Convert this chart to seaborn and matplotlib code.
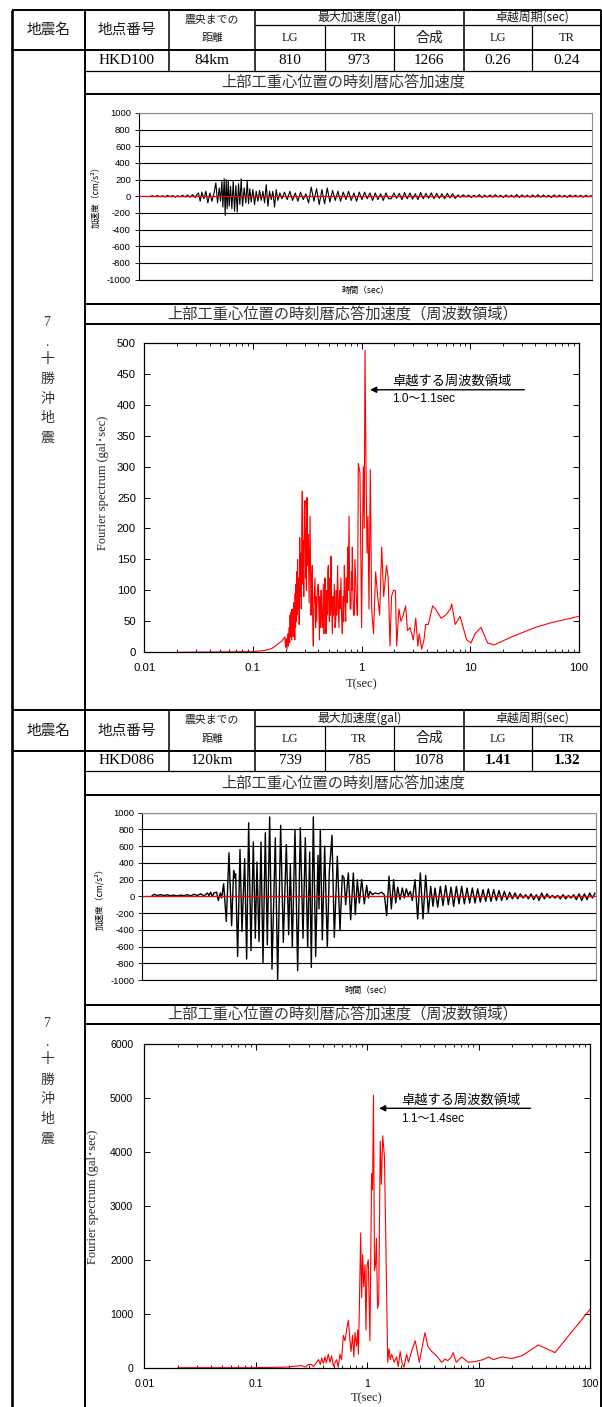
import numpy as np
import matplotlib.pyplot as plt
from matplotlib.ticker import LogLocator, NullFormatter
import seaborn as sns

sns.set_theme(style='white')
plt.rcParams['font.family'] = ['Noto Sans CJK JP', 'DejaVu Sans']
plt.rcParams['axes.unicode_minus'] = False

JP = ['Noto Sans CJK JP', 'DejaVu Sans']
SERIF = ['Liberation Serif', 'Noto Sans CJK JP']
SANS = ['Liberation Sans', 'Noto Sans CJK JP']

W, H = 602, 1407

# ── table values ────────────────────────────────────────────
quake_chars = ['7', '.', '十', '勝', '沖', '地', '震']
stations = ['HKD100', 'HKD086']
distances = ['84km', '120km']
pga_lg = [810, 739]
pga_tr = [973, 785]
pga_sum = [1266, 1078]
period_lg = ['0.26', '1.41']
period_tr = ['0.24', '1.32']
period_bold = [False, True]
dominant_band = ['1.0～1.1sec', '1.1～1.4sec']

# ── time history 1 (HKD100), peaks ───────────────────────────
wave1_t = [3.5, 4.2, 5.0, 5.7, 6.5, 7.2, 8.0, 8.7, 9.5, 10.2, 11.0, 11.7, 12.5, 13.2,
           14.0, 14.7, 15.5, 16.2, 17.0, 17.5,
           18.0, 18.5, 19.0, 19.6, 20.2, 20.8, 21.4, 22.0, 22.6, 23.2,
           23.7, 24.2, 24.6, 25.0, 25.3, 25.7, 26.0, 26.3, 26.6, 26.9,
           27.2, 27.6, 28.0, 28.4, 28.8, 29.2, 29.6, 30.0, 30.4, 30.8,
           31.2, 31.7, 32.2, 32.6, 33.0, 33.4, 33.8, 34.3, 34.8, 35.3,
           35.8, 36.3, 36.8, 37.3, 37.8, 38.3, 38.8, 39.3, 39.8, 40.3,
           40.8, 41.3, 41.8, 42.4]
wave1_a = [0, 5, -5, 8, -6, 5, -8, 10, -5, 8, -10, 6, -8, 12,
           -10, 15, -12, 20, -15, 20,
           40, -60, 50, -30, 60, -80, 40, -60, 30, 160,
           -80, 100, -60, 180, -130, 210, -230, 200, -150, 190,
           -120, 120, -150, 180, -180, 130, -190, 150, -100, 210,
           -120, 100, -80, 180, -90, 90, -70, 80, -100, 60,
           -60, 70, -50, 60, -80, 140, -120, 60, -40, 60,
           -130, 80, -50, 40]
wave1_tail_t0, wave1_tail_dt = 43.0, 0.8
wave1_tail = [-30, 50, -40, 60, -50, 40, -60, 50, -40, 30,
              -80, 110, -60, 90, -100, 80, -90, 100, -70, 70,
              -50, 60, -60, 50, -40, 60, -50, 40, -60, 50, -40, 50, -30, 40, -50, 40,
              -40, 30, -50, 40, -30,
              -30, 40, -25, 35, -40, 45, -30, 40, -35, 30, -40, 45, -30, 35, -25, 40,
              -30, 35, -25, 30, -30, 35, -20, 30, -25,
              15, -12, 18, -10, 15, -15, 12, -10, 20, -15, 12, -10, 15, -12, 18, -10,
              12, -15, 15, -10, 12, -12, 20, -15, 15, -10, 12, -12, 15, -10, 18, -12,
              15, -10, 12, -15, 15, -10, 12, -8, 10, -12, 15, -10, 12, -8, 10, -10,
              12, -8, 10]

# ── time history 2 (HKD086) ─────────────────────────────────
wave2_t = [2.8, 3.5, 4.5, 5.5, 6.5, 7.5, 8.5, 9.5, 10.5, 11.5, 12.5, 13.5, 14.5, 15.5,
           16.5, 17.5, 18.5, 19.5, 20.0, 20.5, 21.0, 21.5,
           22.3, 22.8, 23.4, 23.8, 24.4, 25.2, 26.0, 26.8, 27.4, 27.7,
           28.0, 28.6, 29.3, 29.9, 30.7, 31.3, 31.9, 32.6, 33.3, 33.9,
           34.4, 35.0, 35.6, 36.2, 36.9, 37.5, 38.2, 38.9, 39.9, 40.6,
           41.5, 42.3, 43.2, 43.9, 44.4, 45.0, 45.8, 46.6, 47.4, 48.2,
           48.9, 49.6, 50.2, 50.7, 51.3, 52.0, 52.7, 53.0, 53.4, 54.0,
           54.7, 55.5, 56.1, 56.9, 57.6, 58.5, 59.3, 60.0, 60.5, 61.0,
           61.8, 62.5, 63.3, 63.9, 64.5, 65.1, 65.8, 66.6, 67.3, 67.8,
           68.3, 69.0, 69.8, 70.8, 71.8, 72.6, 73.3, 74.0, 74.7, 75.4,
           76.0, 76.6, 77.3, 78.0, 78.6, 79.2, 79.8, 80.4, 81.0, 81.8,
           82.6, 83.4, 84.2, 85.0, 85.8, 86.5, 87.2]
wave2_a = [0, 25, 10, 20, 10, 18, 8, 15, 5, 15, 8, 20, 5, 25,
           10, 30, 5, 40, 10, 50, 0, 40,
           50, -50, 40, -20, 150, -300, 520, -350, 310, 220,
           270, -720, 560, -420, 450, -750, 880, -650, 650, -500,
           410, -540, 650, -800, 760, -580, 950, -870, 700, -1000,
           850, -550, 620, -460, 380, -610, 800, -890, 820, -500,
           700, -610, 530, -850, 950, -720, 490, -150, 800, -520,
           600, -610, 300, 730, -490, 480, -410, 250, 220, -100,
           280, -280, 280, -220, 200, -80, 200, -90, 130, -20,
           60, 20, 40, 30, 50, 20, -230, 240, -150, 200,
           -80, 110, -40, 100, -20, 90, 10, 60, -50, 200,
           -270, 280, -270, 250, -200, 120, -120]
wave2_tail_t0, wave2_tail_dt = 87.8, 0.8
wave2_tail = [100, -130, 120, -110, 130, -100, 110, -120, 120, -90, 120, -90, 100, -80,
              100, -80, 90, -70, 80, -60, 90, -60, 80, -50, 70, -50, 60, -40, 50, -30,
              40, -30, 30, -20, 20, -30, 30, -40, 20, -50, 40, -30, 30, -20, 10, -20,
              10, -30, 20, -30, 10, -20, 20, -40, 30, -50, 30, -40, 40, -20, 40]

baseline_t = [0.0, 136.0]
baseline_a = [0, 0]

# ── Fourier spectra ─────────────────────────────────────────
four1_T = [0.02, 0.048, 0.097, 0.129, 0.149, 0.166, 0.184, 0.197,
           0.200, 0.203, 0.206, 0.209, 0.212, 0.215, 0.218, 0.220, 0.222, 0.225,
           0.227, 0.229, 0.231, 0.233, 0.235, 0.237, 0.239, 0.241, 0.243, 0.245,
           0.247, 0.249, 0.251, 0.253, 0.255, 0.258, 0.261, 0.264, 0.267, 0.270,
           0.273, 0.276, 0.279, 0.282, 0.285, 0.288, 0.291, 0.294, 0.298, 0.302,
           0.305, 0.308, 0.311, 0.315, 0.319, 0.324, 0.329, 0.336, 0.340, 0.343,
           0.347, 0.352, 0.356, 0.360,
           0.365, 0.373, 0.378, 0.382, 0.386, 0.392, 0.400, 0.405, 0.410, 0.414,
           0.420, 0.425, 0.430, 0.436, 0.445, 0.450, 0.455, 0.461, 0.468, 0.472,
           0.478, 0.485, 0.490, 0.495, 0.500, 0.506, 0.513, 0.518, 0.524, 0.530,
           0.539, 0.545, 0.552, 0.562, 0.570, 0.578, 0.585, 0.592, 0.603, 0.610,
           0.620, 0.628, 0.636, 0.647, 0.655, 0.666, 0.675, 0.685, 0.695, 0.705,
           0.715, 0.725, 0.735, 0.746, 0.755, 0.768, 0.776, 0.786, 0.800, 0.808,
           0.815, 0.823, 0.835, 0.845, 0.859, 0.870, 0.883, 0.900, 0.910, 0.920,
           0.935,
           0.968, 1.002, 1.038, 1.060, 1.077, 1.100, 1.124, 1.147, 1.172, 1.205,
           1.240, 1.290, 1.350, 1.410, 1.470, 1.535, 1.600, 1.700, 1.760, 1.830,
           1.890, 1.970, 2.050, 2.110, 2.210, 2.310, 2.420, 2.550, 2.650, 2.800,
           3.000, 3.160, 3.300, 3.400, 3.580, 3.760, 3.900, 4.120, 4.520, 4.800,
           5.400, 5.960, 6.600, 6.760, 7.300, 8.070, 9.310, 10.20, 11.10, 12.60,
           14.50, 16.70, 24.20, 39.60, 56.40, 100.0]
four1_A = [0, 0.5, 1, 3, 6, 12, 18, 25,
           8, 22, 5, 30, 10, 40, 15, 60, 25, 65,
           20, 70, 30, 55, 25, 80, 35, 60, 20, 95,
           40, 110, 50, 130, 60, 150, 70, 120, 45, 185,
           90, 160, 70, 200, 260, 110, 180, 90, 230, 245,
           120, 200, 100, 250, 140, 190, 80, 220, 120, 60,
           100, 140, 40, 10,
           80, 120, 40, 90, 50, 100, 110, 60, 20, 90,
           40, 100, 60, 40, 110, 30, 80, 120, 50, 30,
           100, 60, 130, 140, 70, 50, 120, 60, 155, 80,
           30, 90, 60, 110, 40, 50, 100, 60, 140, 80,
           40, 100, 70, 120, 60, 30, 90, 50, 140, 90,
           50, 120, 80, 170, 100, 220, 120, 70, 70, 130,
           100, 170, 90, 60, 60, 150, 120, 80, 60, 60,
           305,
           290, 40, 300, 200, 488, 300, 160, 220, 70, 295,
           70, 30, 130, 90, 60, 170, 90, 140, 120, 10,
           90, 100, 100, 10, 70, 50, 60, 75, 35, 40,
           20, 55, 10, 30, 5, 20, 45, 45, 75, 70,
           55, 60, 70, 78, 45, 58, 20, 15, 30, 40,
           15, 12, 25, 40, 48, 58]

four2_T = [0.02, 0.046, 0.092, 0.183, 0.21, 0.258, 0.28, 0.297, 0.318, 0.33,
           0.366, 0.38, 0.391, 0.405, 0.419, 0.43, 0.448, 0.464, 0.48, 0.497,
           0.532, 0.55, 0.57, 0.59, 0.611, 0.632, 0.655, 0.678, 0.702, 0.717,
           0.74, 0.76, 0.778, 0.805, 0.823, 0.834, 0.851, 0.875, 0.893, 0.912,
           0.931, 0.957, 0.976, 0.997, 1.024, 1.038, 1.059, 1.096, 1.118, 1.14,
           1.163, 1.187, 1.21, 1.24, 1.27, 1.31, 1.34, 1.38, 1.43, 1.48,
           1.53, 1.57, 1.61, 1.66, 1.75, 1.84, 1.9, 1.98, 2.05, 2.14,
           2.26, 2.35, 2.5, 2.7, 2.94, 3.13, 3.3, 3.5, 3.8, 4.06,
           4.35, 4.66, 5.0, 5.3, 5.7, 5.9, 6.3, 7.05, 8.1, 9.6,
           11.0, 12.3, 13.6, 16.2, 19.8, 24.4, 34.4, 48.5, 100.0]
four2_A = [0, 0, 0, 10, 20, 40, 10, 60, 60, 20,
           150, 60, 180, 80, 200, 90, 250, 100, 220, 30,
           150, 10, 250, 150, 600, 500, 700, 880, 500, 300,
           600, 200, 650, 400, 700, 250, 1100, 2500, 1300, 2100,
           1500, 1900, 700, 1900, 2000, 1400, 500, 3600, 3300, 5050,
           1800, 1900, 2400, 1100, 1200, 4200, 3400, 4300, 3900, 2000,
           100, 350, 150, 250, 100, 200, 20, 300, 100, 10,
           250, 100, 300, 500, 100, 400, 650, 400, 300, 250,
           180, 100, 160, 130, 200, 280, 100, 200, 100, 120,
           150, 200, 150, 200, 170, 220, 420, 280, 1080]

four_ymax = [500, 6000]
four_ystep = [50, 1000]
decades = [0.01, 0.1, 1, 10, 100]
decade_labels = ['0.01', '0.1', '1', '10', '100']

waves = [(wave1_t, wave1_a, wave1_tail_t0, wave1_tail_dt, wave1_tail),
         (wave2_t, wave2_a, wave2_tail_t0, wave2_tail_dt, wave2_tail)]
spectra = [(four1_T, four1_A), (four2_T, four2_A)]

# ── layout (pixels) ─────────────────────────────────────────
block_top = [9.5, 710.0]
block_bottom = [710.0, H]
wave_rect = [(138.5, 113, 592, 279.5), (142.3, 812.7, 595.7, 980)]
four_rect = [(144.3, 342.7, 578.7, 652.3), (144.3, 1044, 590, 1367.7)]
wave_ylab = [(96, 195), (100, 897)]
wave_xlab = [(365, 290), (368, 990)]
four_ylab = [(103, 483), (93, 1197)]
four_xlab = [(362, 684), (367, 1398)]
four_fs = [8.2, 7.6]
arrow_tip = [(1.2, 424), (1.28, 4808)]
arrow_tail = [31.6, 29.3]
note_x = [1.92, 2.01]
note_top = [427, 4840]
note_sub = [418, 4720]

fig = plt.figure(figsize=(W / 100, H / 100), dpi=100)
bg = fig.add_axes([0, 0, 1, 1])
bg.set_xlim(0, W)
bg.set_ylim(H, 0)
bg.axis('off')


def hl(y, x0, x1, lw):
    bg.plot([x0, x1], [y, y], color='black', lw=lw, solid_capstyle='butt')


def vl(x, y0, y1, lw):
    bg.plot([x, x], [y0, y1], color='black', lw=lw, solid_capstyle='butt')


def txt(x, y, s, size, family=JP, **kw):
    bg.text(x, y, s, fontsize=size, family=family, ha='center', va='center', **kw)


def px_axes(r):
    x0, y0, x1, y1 = r
    return fig.add_axes([x0 / W, 1 - y1 / H, (x1 - x0) / W, (y1 - y0) / H])


THICK, MID, THIN = 1.9, 1.4, 0.9
for i, y0 in enumerate(block_top):
    y1 = block_bottom[i]
    # table grid
    hl(y0, 12, 601, MID)
    hl(y0 + 15.5, 255, 601, THIN)
    hl(y0 + 40.5, 12, 601, MID)
    hl(y0 + 61, 85, 601, THIN)
    hl(y0 + 84.5, 85, 601, MID)
    hl(y0 + 294.5, 85, 601, MID)
    hl(y0 + 314, 85, 601, MID)
    vl(12, y0, y1, THICK)
    vl(85, y0, y1, MID)
    vl(600.5, y0, y1, MID)
    for x in (169, 255, 464):
        vl(x, y0, y0 + 61, 1.1)
    for x in (325, 394, 532):
        vl(x, y0 + 15.5, y0 + 61, THIN)

    # header
    c = '#1a1a1a'
    txt(48, y0 + 20.5, '地震名', 10.5, color=c)
    txt(127, y0 + 20.5, '地点番号', 10.5, color=c)
    txt(212, y0 + 10, '震央までの', 7.8, color=c)
    txt(212, y0 + 29, '距離', 7.8, color=c)
    txt(360, y0 + 8, '最大加速度(gal)', 8.6, color=c)
    txt(532, y0 + 8, '卓越周期(sec)', 8.6, color=c)
    for x, s in zip((290, 359, 498, 567), ('LG', 'TR', 'LG', 'TR')):
        txt(x, y0 + 28.5, s, 9, family=SERIF, color=c)
    txt(429, y0 + 28, '合成', 10, color=c)

    # values row
    vals = [stations[i], distances[i], str(pga_lg[i]), str(pga_tr[i]), str(pga_sum[i])]
    for x, s in zip((127, 212, 290, 359, 429), vals):
        txt(x, y0 + 51, s, 11, family=SERIF, color='black')
    wt = 'bold' if period_bold[i] else 'normal'
    txt(498, y0 + 51, period_lg[i], 11, family=SERIF, color='black', fontweight=wt)
    txt(567, y0 + 51, period_tr[i], 11, family=SERIF, color='black', fontweight=wt)

    # section titles
    txt(343, y0 + 73, '上部工重心位置の時刻暦応答加速度', 11, color='#333333')
    txt(343, y0 + 304.5, '上部工重心位置の時刻暦応答加速度（周波数領域）', 11, color='#333333')

    # earthquake name, vertical
    for ch, dy in zip(quake_chars, (313.5, 333, 349.5, 369.5, 389.5, 408.5, 428.5)):
        fam = SERIF if ch in '7.' else JP
        txt(47, y0 + dy, ch, 10, family=fam, color='#333333')

    # ── time history chart ──
    t, a, t0, dt, tail = waves[i]
    tt = np.concatenate([t, t0 + dt * np.arange(len(tail))])
    aa = np.concatenate([a, tail])
    ax = px_axes(wave_rect[i])
    sns.lineplot(x=tt, y=aa, ax=ax, color='black', lw=0.8 if i == 0 else 1.0,
                 estimator=None, sort=False)
    sns.lineplot(x=baseline_t, y=baseline_a, ax=ax, color='red', lw=0.9,
                 estimator=None, sort=False)
    ax.set_xlim(baseline_t)
    ax.set_ylim(-1000, 1000)
    ax.set_yticks(np.arange(-1000, 1001, 200))
    ax.set_xticks([])
    ax.set_xlabel('')
    ax.set_ylabel('')
    ax.yaxis.grid(True, color='black', lw=0.8)
    ax.xaxis.grid(False)
    ax.set_axisbelow(True)
    ax.tick_params(axis='y', left=True, direction='out', length=3, width=0.6,
                   labelsize=6.8, pad=2.5, colors='black')
    for lab in ax.get_yticklabels():
        lab.set_family(SANS)
    for name, sp in ax.spines.items():
        sp.set_visible(True)
        sp.set_linewidth(0.8)
        sp.set_color('black' if name in ('left', 'bottom') else '#8c8c8c')
    x, y = wave_ylab[i]
    bg.text(x, y, '加速度（cm/s²）', fontsize=6.2, family=JP, rotation=90,
            ha='center', va='center', color='black')
    x, y = wave_xlab[i]
    txt(x, y, '時間（sec）', 6.2, color='black')

    # ── Fourier spectrum chart ──
    T, A = spectra[i]
    ax = px_axes(four_rect[i])
    sns.lineplot(x=T, y=A, ax=ax, color='#ff0000', lw=0.8, estimator=None, sort=False)
    ax.set_xscale('log')
    ax.set_xlim(0.01, 100)
    ax.set_ylim(0, four_ymax[i])
    ax.set_yticks(np.arange(0, four_ymax[i] + 1, four_ystep[i]))
    ax.set_xticks(decades)
    ax.set_xticklabels(decade_labels)
    ax.xaxis.set_minor_locator(LogLocator(base=10, subs=np.arange(2, 10)))
    ax.xaxis.set_minor_formatter(NullFormatter())
    ax.set_xlabel('')
    ax.set_ylabel('')
    ax.grid(False)
    ax.tick_params(which='both', direction='in', top=True, right=True, bottom=True,
                   left=True, colors='black')
    ax.tick_params(which='major', length=4, width=0.7, labelsize=four_fs[i])
    ax.tick_params(axis='x', which='major', pad=8)
    ax.tick_params(axis='y', which='major', pad=6 if i == 0 else 8)
    ax.tick_params(which='minor', length=2.5, width=0.6)
    for lab in ax.get_xticklabels() + ax.get_yticklabels():
        lab.set_family(SANS)
    for sp in ax.spines.values():
        sp.set_visible(True)
        sp.set_color('black')
        sp.set_linewidth(0.9)

    ax.annotate('', xy=arrow_tip[i], xytext=(arrow_tail[i], arrow_tip[i][1]),
                arrowprops=dict(arrowstyle='-|>', color='black', lw=1.0,
                                mutation_scale=9, shrinkA=0, shrinkB=0))
    ax.text(note_x[i], note_top[i], '卓越する周波数領域', fontsize=9.5, family=JP,
            ha='left', va='bottom', color='black')
    ax.text(note_x[i], note_sub[i], dominant_band[i], fontsize=8.5, family=SANS,
            ha='left', va='top', color='black')

    x, y = four_ylab[i]
    bg.text(x, y, 'Fourier spectrum (gal･sec)', fontsize=9, family=SERIF, rotation=90,
            ha='center', va='center', color='#222222')
    x, y = four_xlab[i]
    txt(x, y, 'T(sec)', 9, family=SERIF, color='#222222')

fig.savefig('out.png', dpi=100)
